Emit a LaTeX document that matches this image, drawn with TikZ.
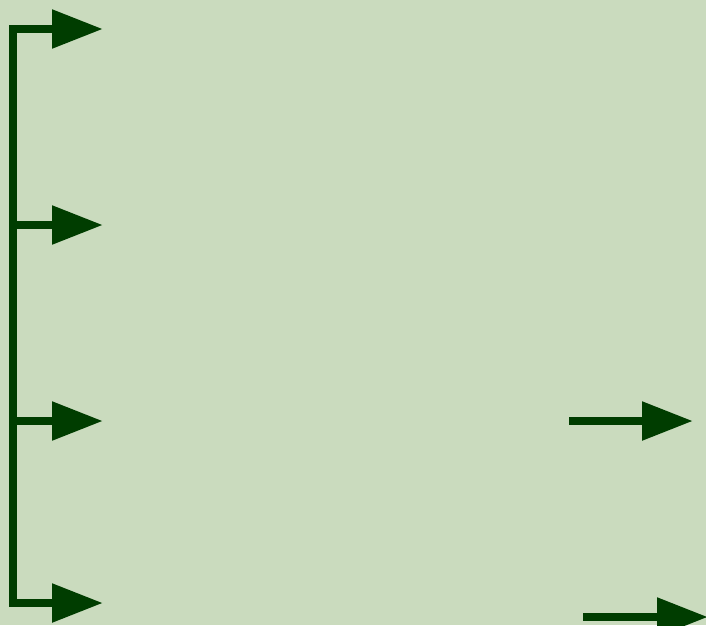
\documentclass[tikz,border=0pt]{standalone}
\usepackage{xcolor}
\usepackage{tikz}
\usetikzlibrary{arrows.meta}
\definecolor{palegreen}{HTML}{CADBBE}
\definecolor{darkgreen}{HTML}{003D00}

\tikzset{
  spine/.style={draw=darkgreen, line width=8.5pt, line cap=rect},
  branch/.style={draw=darkgreen, line width=8.5pt,
    -{Triangle[length=51pt, width=37pt]}}
}

\begin{document}
\begin{tikzpicture}[x=1pt, y=-1pt]
\fill[palegreen] (0,0) rectangle (706,625);
\clip (0,0) rectangle (706,625);
% left bracket
\coordinate (s1) at (13,29);
\coordinate (s2) at (13,225);
\coordinate (s3) at (13,421);
\coordinate (s4) at (13,603);
\coordinate (t1) at (103,29);
\coordinate (t2) at (103,225);
\coordinate (t3) at (103,421);
\coordinate (t4) at (103,603);
\draw[spine] (s1) -- (s4);
\draw[branch] (s1) -- (t1);
\draw[branch] (s2) -- (t2);
\draw[branch] (s3) -- (t3);
\draw[branch] (s4) -- (t4);
% right side
\coordinate (r1) at (569,421);
\coordinate (u1) at (693,421);
\coordinate (r2) at (583,617);
\coordinate (u2) at (708,617);
\draw[branch] (r1) -- (u1);
\draw[branch] (r2) -- (u2);
\end{tikzpicture}
\end{document}
